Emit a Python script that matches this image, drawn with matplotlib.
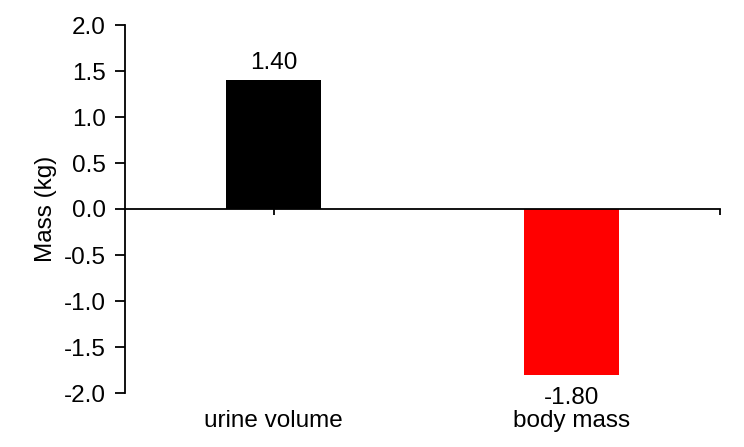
import matplotlib.pyplot as plt
import matplotlib.transforms as mtransforms

plt.rcParams['font.family'] = ['Liberation Sans', 'DejaVu Sans']
plt.rcParams['axes.unicode_minus'] = False

categories = ['urine volume', 'body mass']
values = [1.40, -1.80]
bar_colors = ['#000000', '#ff0000']
yticks = [-2.0, -1.5, -1.0, -0.5, 0.0, 0.5, 1.0, 1.5, 2.0]

fs = 17.5

fig = plt.figure(figsize=(7.44, 4.47), dpi=100)
ax = fig.add_axes([125 / 744, 1 - 393 / 447, (720 - 125) / 744, (393 - 25) / 447])

x = list(range(len(categories)))
ax.bar(x, values, width=0.32, color=bar_colors, zorder=2)

ax.set_xlim(-0.5, 1.5)
ax.set_ylim(-2.0, 2.0)
ax.set_yticks(yticks)
ax.set_yticklabels(['%.1f' % v for v in yticks], fontsize=fs)
ax.tick_params(axis='y', direction='out', length=7, width=1.3, pad=7)

# x axis sits on zero
ax.spines['bottom'].set_position(('data', 0))
ax.spines['top'].set_visible(False)
ax.spines['right'].set_visible(False)
ax.spines['left'].set_linewidth(1.3)
ax.spines['bottom'].set_linewidth(1.3)
ax.set_xticks(x + [1.5])
ax.set_xticklabels([])
ax.tick_params(axis='x', direction='out', length=4, width=1.3)

trans = mtransforms.blended_transform_factory(ax.transData, fig.transFigure)
for i, cat in enumerate(categories):
    ax.text(i, 1 - 421 / 447, cat, transform=trans, ha='center', va='center', fontsize=fs)

for i, v in enumerate(values):
    if v >= 0:
        ax.annotate('%.2f' % v, (i, v), xytext=(0, 6), textcoords='offset pixels',
                    ha='center', va='bottom', fontsize=fs)
    else:
        ax.annotate('%.2f' % v, (i, v), xytext=(0, -12), textcoords='offset pixels',
                    ha='center', va='top', fontsize=fs)

ax.set_ylabel('Mass (kg)', fontsize=fs, labelpad=5)

fig.savefig('out.png', dpi=100)
